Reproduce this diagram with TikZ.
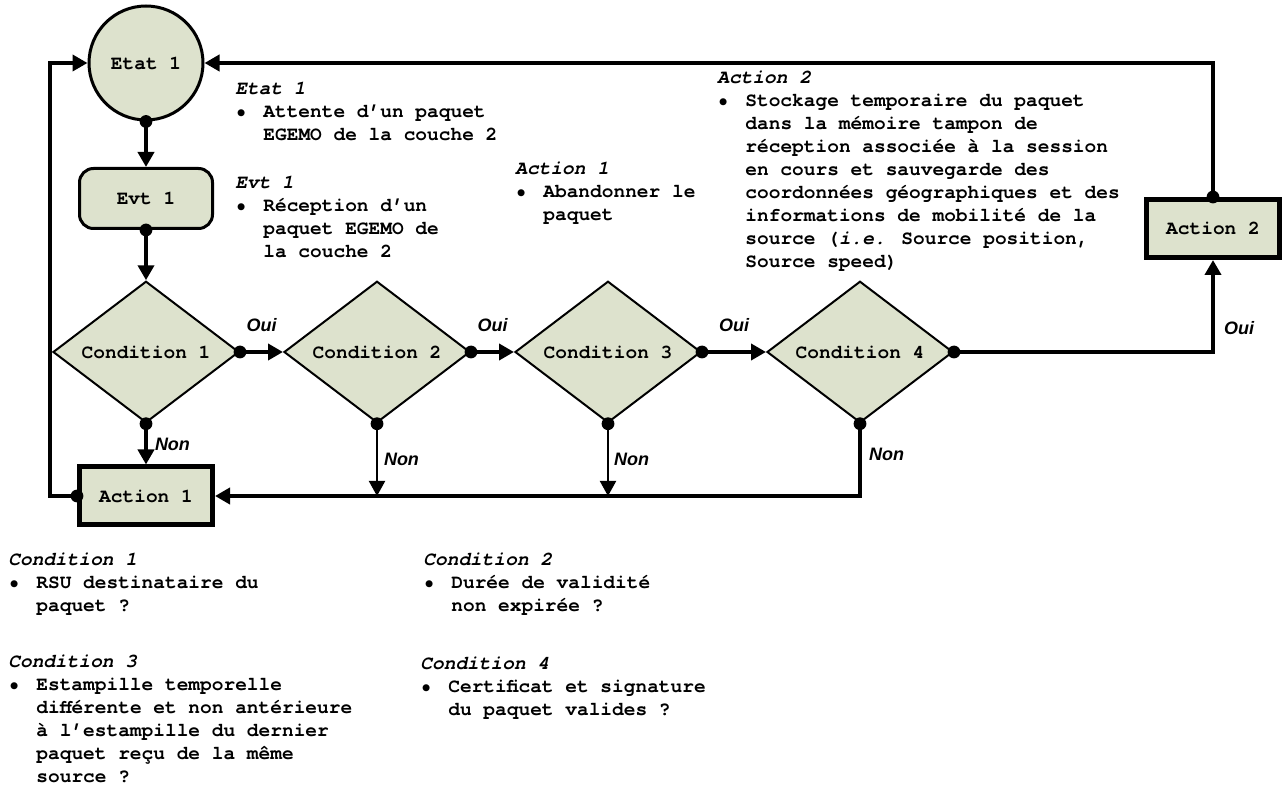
\documentclass[tikz,border=0pt]{standalone}
\usepackage{fontspec}
\setmainfont{TeX Gyre Cursor}
\newfontfamily\lblfont{Liberation Sans}
\usetikzlibrary{arrows.meta,shapes.geometric}

\definecolor{boxfill}{RGB}{221,226,205}
\newcommand{\itm}{\makebox[14pt][l]{\textbullet}}
\newcommand{\ind}{\hspace*{14pt}}

\tikzset{
  etat/.style={circle, draw, line width=1.5pt, fill=boxfill, minimum size=57pt, inner sep=0pt},
  evtbox/.style={rectangle, rounded corners=7pt, draw, line width=1.5pt, fill=boxfill, minimum width=66.5pt, minimum height=30pt},
  cond/.style={diamond, draw, line width=1pt, fill=boxfill, minimum width=93pt, minimum height=67.5pt, inner sep=0pt},
  actbox/.style={rectangle, draw, line width=2.5pt, fill=boxfill, minimum width=66.5pt, minimum height=29pt},
  desc/.style={anchor=north west, align=left, inner sep=0pt},
  fleche/.style={line width=2pt, -{Triangle[length=7.5pt,width=8pt]}},
  fin/.style={line width=1pt, -{Triangle[length=7.5pt,width=8pt]}},
  ouinon/.style={font=\lblfont\fontsize{9}{10}\selectfont\bfseries\itshape, inner sep=0pt},
}

\begin{document}
\begin{tikzpicture}[x=0.5pt,y=-0.5pt,font=\fontsize{9.75}{11.5}\selectfont\bfseries]
  \useasboundingbox (0,0) rectangle (1284,785);

  % etats, evenements, conditions, actions
  \node[etat] (etat) at (146,63) {Etat 1};
  \node[evtbox] (evt) at (146,198.5) {Evt 1};
  \node[cond] (c1) at (146,352) {Condition 1};
  \node[cond] (c2) at (377,352) {Condition 2};
  \node[cond] (c3) at (608,352) {Condition 3};
  \node[cond] (c4) at (860,352) {Condition 4};
  \node[actbox] (act1) at (146,496) {Action 1};
  \node[actbox] (act2) at (1213,228.5) {Action 2};
  \coordinate (gauche) at (50,63);

  % liaisons
  \draw[fleche] (etat.south) -- (evt.north);
  \draw[fleche] (evt.south) -- (c1.north);
  \draw[fleche] (c1.east) -- (c2.west) node[ouinon, midway, above=9pt] {Oui};
  \draw[fleche] (c2.east) -- (c3.west) node[ouinon, midway, above=9pt] {Oui};
  \draw[fleche] (c3.east) -- (c4.west) node[ouinon, midway, above=9pt] {Oui};
  \draw[fleche] (c4.east) -| (act2.south) node[ouinon, pos=0.63, right=4.5pt] {Oui};
  \draw[fleche] (act2.north) |- (etat.east);
  \draw[fleche] (c1.south) -- (act1.north) node[ouinon, midway, right=3.5pt] {Non};
  \draw[fin] (c2.south) -- (c2.south |- act1.east) node[ouinon, midway, right=3pt] {Non};
  \draw[fin] (c3.south) -- (c3.south |- act1.east) node[ouinon, midway, right=2.5pt] {Non};
  \draw[fleche] (c4.south) |- (act1.east) node[ouinon, pos=0.21, right=3.5pt] {Non};
  \draw[fleche] (act1.west) -| (gauche) -- (etat.west);

  % points de depart
  \foreach \p in {etat.south, evt.south, c1.east, c2.east, c3.east, c4.east,
                  c1.south, c2.south, c3.south, c4.south, act1.west, act2.north}
    \fill (\p) circle (3.2pt);

  % descriptions
  \node[desc] (d-etat) at (235,81.5) {\textit{Etat 1}\\
    \itm Attente d’un paquet\\
    \ind EGEMO de la couche 2};
  \node[desc] (d-evt) at (235,175.5) {\textit{Evt 1}\\
    \itm Réception d’un\\
    \ind paquet EGEMO de\\
    \ind la couche 2};
  \node[desc] (d-act1) at (515,161.5) {\textit{Action 1}\\
    \itm Abandonner le\\
    \ind paquet};
  \node[desc] (d-act2) at (717,70.5) {\textit{Action 2}\\
    \itm Stockage temporaire du paquet\\
    \ind dans la mémoire tampon de\\
    \ind réception associée à la session\\
    \ind en cours et sauvegarde des\\
    \ind coordonnées géographiques et des\\
    \ind informations de mobilité de la\\
    \ind source (\textit{i.e.} Source position,\\
    \ind Source speed)};
  \node[desc] (d-c1) at (8,552.5) {\textit{Condition 1}\\
    \itm RSU destinataire du\\
    \ind paquet ?};
  \node[desc] (d-c2) at (423,552.5) {\textit{Condition 2}\\
    \itm Durée de validité\\
    \ind non expirée ?};
  \node[desc] (d-c3) at (8,654.5) {\textit{Condition 3}\\
    \itm Estampille temporelle\\
    \ind différente et non antérieure\\
    \ind à l’estampille du dernier\\
    \ind paquet reçu de la même\\
    \ind source ?};
  \node[desc] (d-c4) at (420,656.5) {\textit{Condition 4}\\
    \itm Certificat et signature\\
    \ind du paquet valides ?};
\end{tikzpicture}
\end{document}
